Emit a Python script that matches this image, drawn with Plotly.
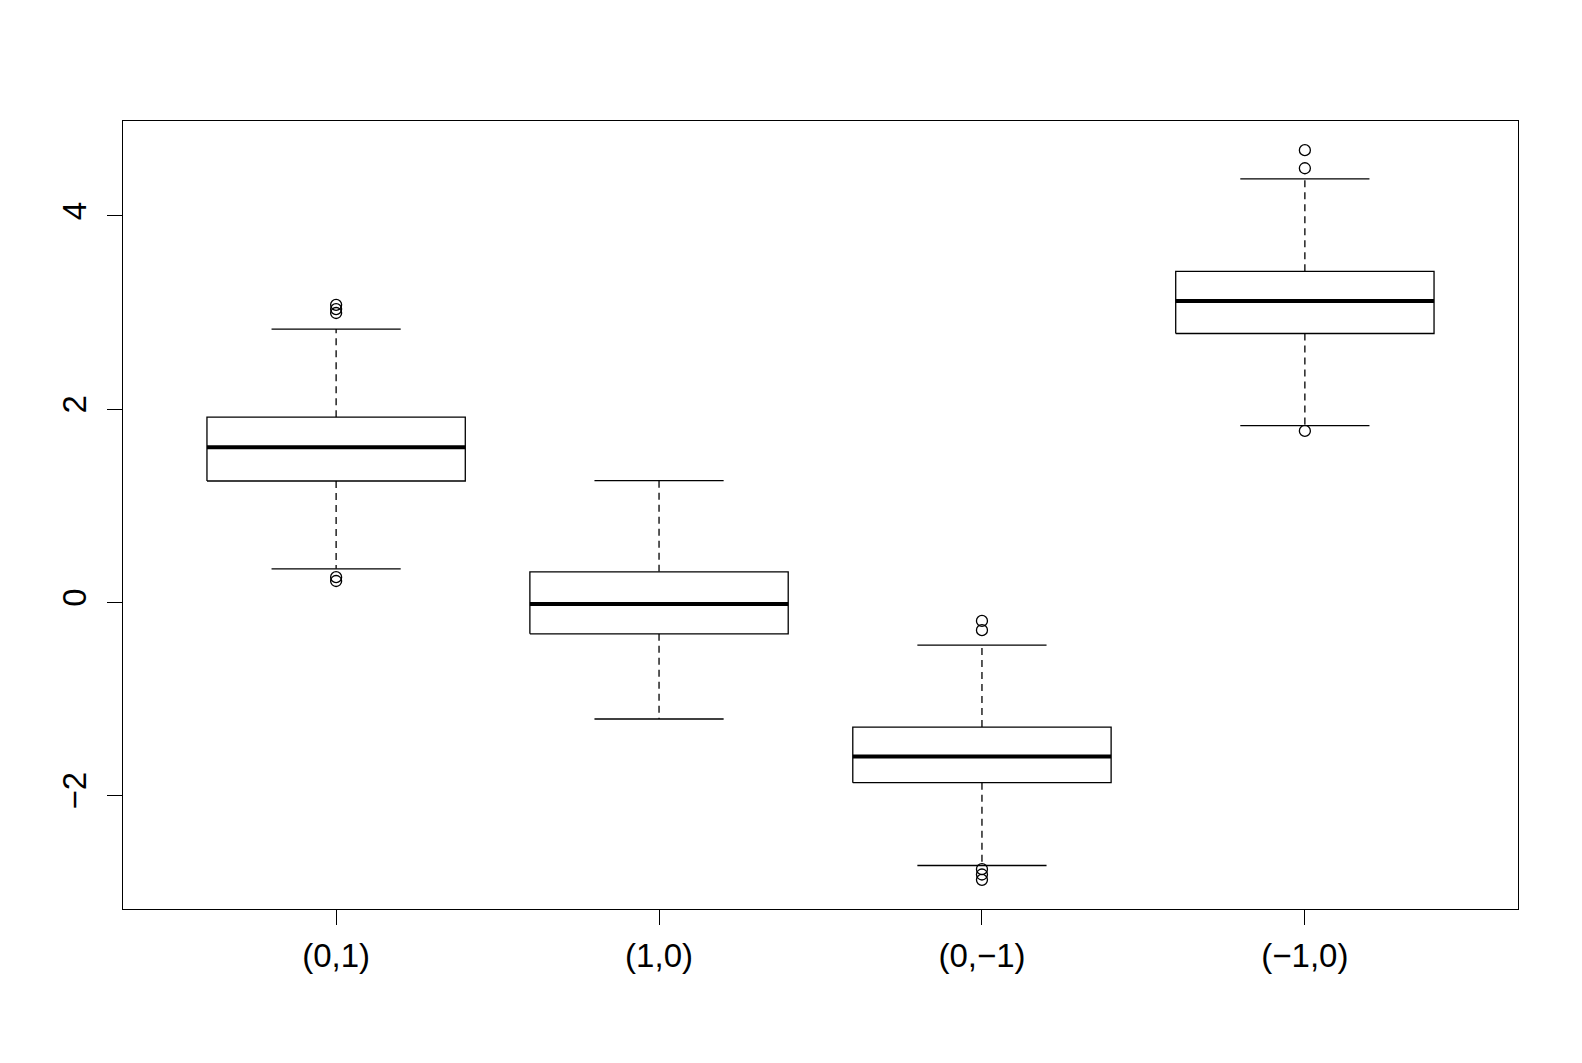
import plotly.graph_objects as go

categories = ["(0,1)", "(1,0)", "(0,\u22121)", "(\u22121,0)"]
lower_whisker = [0.348, -1.206, -2.722, 1.830]
q1 = [1.257, -0.325, -1.865, 2.783]
median = [1.606, -0.015, -1.593, 3.119]
q3 = [1.917, 0.317, -1.289, 3.426]
upper_whisker = [2.829, 1.260, -0.442, 4.383]
outliers = [
    [3.080, 3.036, 2.995, 0.262, 0.222],
    [],
    [-0.191, -0.287, -2.760, -2.815, -2.870],
    [4.680, 4.493, 1.775],
]

BOX_HALF = 0.4
STAPLE_HALF = 0.2
LW = 1.3

fig = go.Figure()
for i, cat in enumerate(categories):
    x = i + 1
    # whiskers (dashed)
    fig.add_trace(go.Scatter(x=[x, x], y=[q3[i], upper_whisker[i]], mode="lines",
                             line=dict(color="black", width=LW, dash="7px,5px"),
                             showlegend=False, hoverinfo="skip"))
    fig.add_trace(go.Scatter(x=[x, x], y=[q1[i], lower_whisker[i]], mode="lines",
                             line=dict(color="black", width=LW, dash="7px,5px"),
                             showlegend=False, hoverinfo="skip"))
    # staples
    for w in (upper_whisker[i], lower_whisker[i]):
        fig.add_trace(go.Scatter(x=[x - STAPLE_HALF, x + STAPLE_HALF], y=[w, w], mode="lines",
                                 line=dict(color="black", width=LW),
                                 showlegend=False, hoverinfo="skip"))
    # box
    fig.add_trace(go.Scatter(x=[x - BOX_HALF, x + BOX_HALF, x + BOX_HALF, x - BOX_HALF, x - BOX_HALF],
                             y=[q1[i], q1[i], q3[i], q3[i], q1[i]], mode="lines",
                             fill="toself", fillcolor="white",
                             line=dict(color="black", width=LW),
                             showlegend=False, hoverinfo="skip"))
    # median
    fig.add_trace(go.Scatter(x=[x - BOX_HALF, x + BOX_HALF], y=[median[i], median[i]], mode="lines",
                             line=dict(color="black", width=4),
                             showlegend=False, hoverinfo="skip"))
    # outliers
    if outliers[i]:
        fig.add_trace(go.Scatter(x=[x] * len(outliers[i]), y=outliers[i], mode="markers",
                                 marker=dict(symbol="circle-open", size=11, color="black",
                                             line=dict(width=LW, color="black")),
                                 showlegend=False, hoverinfo="skip"))

all_vals = lower_whisker + upper_whisker + [v for o in outliers for v in o]
lo, hi = min(all_vals), max(all_vals)
pad = 0.04 * (hi - lo)

fig.update_layout(
    width=1582, height=1063,
    margin=dict(l=123, r=64, t=121, b=154),
    paper_bgcolor="white", plot_bgcolor="white",
    font=dict(family="Liberation Sans, Arial, sans-serif", size=33, color="black"),
    xaxis=dict(range=[0.34, len(categories) + 0.66], tickvals=[1, 2, 3, 4], ticktext=categories,
               showgrid=False, zeroline=False, showline=True, linecolor="black", linewidth=1.3,
               mirror=True, ticks="outside", ticklen=15, tickwidth=1.3, tickcolor="black",
               ticklabelstandoff=2),
    yaxis=dict(range=[lo - pad, hi + pad], tickvals=[-2, 0, 2, 4],
               showgrid=False, zeroline=False, showline=True, linecolor="black", linewidth=1.3,
               mirror=True, ticks="outside", ticklen=15, tickwidth=1.3, tickcolor="black",
               tickangle=-90, ticklabelstandoff=8),
)

fig.write_html("out.html")
